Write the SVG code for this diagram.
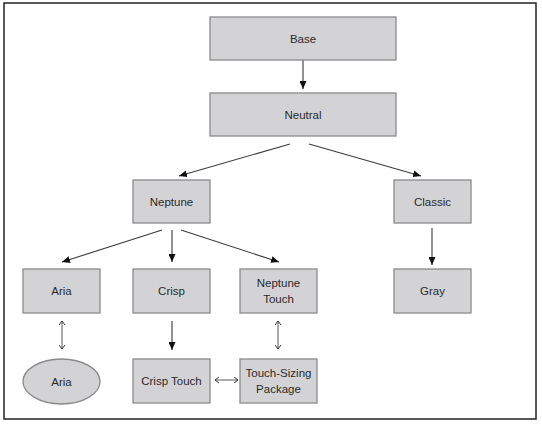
<svg xmlns="http://www.w3.org/2000/svg" width="542" height="425" viewBox="0 0 542 425">
<style>
.node{fill:#d3d3d5;stroke:#8a8a8a;stroke-width:1.3}
.lbl{font-family:"Liberation Sans",Arial,sans-serif;font-size:11.5px;fill:#2a2a2a;text-anchor:middle}
.edge{stroke:#3a3a3a;stroke-width:1.1;fill:none}
.bi{stroke:#666;stroke-width:1.1;fill:none}
</style>
<defs>
<marker id="ah" viewBox="0 0 8 7" refX="8" refY="3.5" markerWidth="8" markerHeight="7" markerUnits="userSpaceOnUse" orient="auto">
<path d="M0,0 L8,3.5 L0,7 Z" fill="#111"/>
</marker>
<marker id="oh" viewBox="0 0 5 7" refX="4.5" refY="3.5" markerWidth="5" markerHeight="7" markerUnits="userSpaceOnUse" orient="auto-start-reverse">
<path d="M0.5,0.5 L4.5,3.5 L0.5,6.5" fill="none" stroke="#333" stroke-width="1"/>
</marker>
</defs>
<rect x="0" y="0" width="542" height="425" fill="#fff"/>
<rect x="4" y="3" width="532" height="416" fill="#fff" stroke="#222" stroke-width="1.5"/>
<g id="connectors">
<line class="edge" x1="303" y1="60" x2="303" y2="89" marker-end="url(#ah)"/>
<line class="edge" x1="290" y1="144" x2="179" y2="176" marker-end="url(#ah)"/>
<line class="edge" x1="309" y1="144" x2="421" y2="176" marker-end="url(#ah)"/>
<line class="edge" x1="162" y1="230" x2="62" y2="262" marker-end="url(#ah)"/>
<line class="edge" x1="172" y1="230" x2="172" y2="262" marker-end="url(#ah)"/>
<line class="edge" x1="181" y1="230" x2="279" y2="262" marker-end="url(#ah)"/>
<line class="edge" x1="432" y1="228" x2="432" y2="265" marker-end="url(#ah)"/>
<line class="edge" x1="172" y1="321" x2="172" y2="350" marker-end="url(#ah)"/>
<line class="bi" x1="62" y1="321" x2="62" y2="349" marker-start="url(#oh)" marker-end="url(#oh)"/>
<line class="bi" x1="278" y1="321" x2="278" y2="349" marker-start="url(#oh)" marker-end="url(#oh)"/>
<line class="bi" x1="215" y1="380" x2="238" y2="380" marker-start="url(#oh)" marker-end="url(#oh)"/>
</g>
<g id="base"><rect class="node" x="210" y="17" width="186" height="43"/><text class="lbl" x="303" y="42.5">Base</text></g>
<g id="neutral"><rect class="node" x="210" y="93" width="186" height="43"/><text class="lbl" x="303" y="118.5">Neutral</text></g>
<g id="neptune"><rect class="node" x="133" y="180" width="77" height="43"/><text class="lbl" x="171.5" y="205.5">Neptune</text></g>
<g id="classic"><rect class="node" x="394" y="180" width="77" height="43"/><text class="lbl" x="432.5" y="205.5">Classic</text></g>
<g id="aria"><rect class="node" x="23" y="269" width="77" height="44"/><text class="lbl" x="61.5" y="295">Aria</text></g>
<g id="crisp"><rect class="node" x="133" y="269" width="77" height="44"/><text class="lbl" x="171.5" y="295">Crisp</text></g>
<g id="neptune-touch"><rect class="node" x="240" y="269" width="77" height="44"/><text class="lbl" x="278.5" y="287">Neptune</text><text class="lbl" x="278.5" y="303">Touch</text></g>
<g id="gray"><rect class="node" x="394" y="269" width="77" height="44"/><text class="lbl" x="432.5" y="295">Gray</text></g>
<g id="aria-ellipse"><ellipse class="node" cx="61.5" cy="381.5" rx="38.5" ry="22.5"/><text class="lbl" x="61.5" y="385.5">Aria</text></g>
<g id="crisp-touch"><rect class="node" x="133" y="359" width="77" height="44"/><text class="lbl" x="171.5" y="385">Crisp Touch</text></g>
<g id="touch-sizing"><rect class="node" x="240" y="359" width="77" height="44"/><text class="lbl" x="278.5" y="377">Touch-Sizing</text><text class="lbl" x="278.5" y="393">Package</text></g>
</svg>
